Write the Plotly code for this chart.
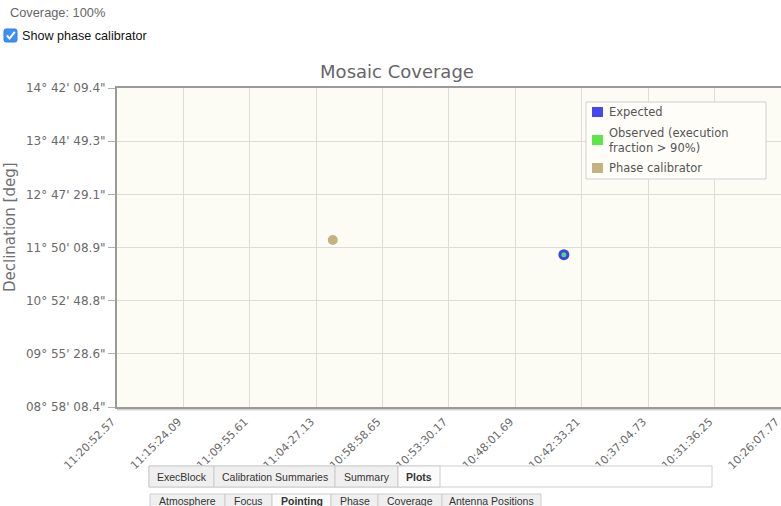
import re
import plotly.graph_objects as go

# ---------------------------------------------------------------- data
ra_tick_labels = ["11:20:52.57", "11:15:24.09", "11:09:55.61", "11:04:27.13",
                  "10:58:58.65", "10:53:30.17", "10:48:01.69", "10:42:33.21",
                  "10:37:04.73", "10:31:36.25", "10:26:07.77"]
dec_tick_labels = ['14° 42\' 09.4"', '13° 44\' 49.3"', '12° 47\' 29.1"',
                   '11° 50\' 08.9"', '10° 52\' 48.8"', '09° 55\' 28.6"',
                   '08° 58\' 08.4"']

# pointing centres (RA h:m:s, Dec d:m:s)
expected_ra = ["10:44:01.8"]
expected_dec = ["11:42:22.7"]
observed_ra = ["10:44:01.8"]
observed_dec = ["11:42:22.7"]
phasecal_ra = ["11:03:05.0"]
phasecal_dec = ["11:58:13.8"]

legend_names = ["Expected", "Observed (execution<br>fraction > 90%)", "Phase calibrator"]
legend_colors = ["#4646f5", "#5ce64a", "#c4b283"]

tabs_row1 = ["ExecBlock", "Calibration Summaries", "Summary", "Plots"]
tabs_row2 = ["Atmosphere", "Focus", "Pointing", "Phase", "Coverage", "Antenna Positions"]
selected_tabs = ["Plots", "Pointing"]


def sexa(s):
    parts = [float(p) for p in re.findall(r"[\d.]+", s)]
    return parts[0] + parts[1] / 60.0 + parts[2] / 3600.0


ra_tick_vals = [sexa(s) for s in ra_tick_labels]
dec_tick_vals = [sexa(s) for s in dec_tick_labels]

# ---------------------------------------------------------------- layout geometry (pixels)
W, H = 781, 506
L, T, R, B = 117, 88, 781, 407


def fx(x):
    return (x - L) / (R - L)


def fy(y):
    return (B - y) / (B - T)


GRAY_TXT = "#6a6a6a"
FONT = "DejaVu Sans"

fig = go.Figure()

fig.add_trace(go.Scatter(
    x=[sexa(v) for v in phasecal_ra], y=[sexa(v) for v in phasecal_dec],
    mode="markers", name="Phase calibrator", showlegend=False,
    marker=dict(color=legend_colors[2], size=10, line=dict(width=0)),
    hoverinfo="skip"))
fig.add_trace(go.Scatter(
    x=[sexa(v) for v in expected_ra], y=[sexa(v) for v in expected_dec],
    mode="markers", name="Expected", showlegend=False,
    marker=dict(color="#3d45e0", size=11, line=dict(width=0)),
    hoverinfo="skip"))
fig.add_trace(go.Scatter(
    x=[sexa(v) for v in observed_ra], y=[sexa(v) for v in observed_dec],
    mode="markers", name="Observed", showlegend=False,
    marker=dict(color="#4fd88a", size=5, line=dict(width=0)),
    hoverinfo="skip"))

shapes = []
annotations = []

# drop shadow under the plot frame
shapes.append(dict(type="line", xref="paper", yref="paper",
                   x0=fx(L), x1=1, y0=fy(B + 2.5), y1=fy(B + 2.5),
                   line=dict(color="#d2d2d2", width=2), layer="below"))

# legend box
lx0, ly0, lx1, ly1 = 586, 102, 766, 179
shapes.append(dict(type="rect", xref="paper", yref="paper",
                   x0=fx(lx0), x1=fx(lx1), y0=fy(ly0), y1=fy(ly1),
                   fillcolor="#fefdf8", line=dict(color="#cfcfcf", width=1),
                   layer="above"))
legend_rows = [112, 140, 168]
for name, col, yc in zip(legend_names, legend_colors, legend_rows):
    shapes.append(dict(type="rect", xref="paper", yref="paper",
                       x0=fx(592), x1=fx(603), y0=fy(yc - 5), y1=fy(yc + 5),
                       fillcolor=col, line=dict(width=0), layer="above"))
    annotations.append(dict(xref="paper", yref="paper", x=fx(607), y=fy(yc),
                            xanchor="left", yanchor="middle", showarrow=False,
                            align="left", text=name,
                            font=dict(family=FONT, size=11.5, color="#555555")))

# y axis title
annotations.append(dict(xref="paper", yref="paper", x=fx(10), y=fy(227),
                        xanchor="center", yanchor="middle", showarrow=False,
                        textangle=-90, text="Declination [deg]",
                        font=dict(family=FONT, size=15, color="#707070")))

# header text and checkbox
annotations.append(dict(xref="paper", yref="paper", x=fx(8), y=fy(12),
                        xanchor="left", yanchor="middle", showarrow=False,
                        text="Coverage: 100%",
                        font=dict(family="Liberation Sans", size=12.8, color="#666666")))
annotations.append(dict(xref="paper", yref="paper", x=fx(20), y=fy(36),
                        xanchor="left", yanchor="middle", showarrow=False,
                        text="Show phase calibrator",
                        font=dict(family="Liberation Sans", size=12.6, color="#111111")))
shapes.append(dict(type="path", xref="paper", yref="paper",
                   path=("M {a},{b} L {c},{b} Q {d},{b} {d},{e} L {d},{f} Q {d},{g} {c},{g} "
                         "L {a},{g} Q {h},{g} {h},{f} L {h},{e} Q {h},{b} {a},{b} Z").format(
                       a=fx(6), c=fx(15), d=fx(17), h=fx(4),
                       b=fy(29), e=fy(31), f=fy(40), g=fy(42)),
                   fillcolor="#3b8ff5", line=dict(color="#2f7fe6", width=1), layer="above"))
shapes.append(dict(type="path", xref="paper", yref="paper",
                   path="M {},{} L {},{} L {},{}".format(fx(6.8), fy(35.5), fx(9.5), fy(38.5),
                                                          fx(14.8), fy(31.8)),
                   line=dict(color="white", width=2), layer="above"))

# tab strip
row1_edges = [149, 214, 335, 398, 440]
row2_edges = [150, 225, 272, 331, 378, 442, 541]
shapes.append(dict(type="rect", xref="paper", yref="paper",
                   x0=fx(149), x1=fx(712), y0=fy(466), y1=fy(487),
                   fillcolor="#ffffff", line=dict(color="#cfcfcf", width=1),
                   layer="above"))


def draw_tabs(labels, edges, y0, y1, ytext):
    for lab, a, b in zip(labels, edges[:-1], edges[1:]):
        sel = lab in selected_tabs
        shapes.append(dict(type="rect", xref="paper", yref="paper",
                           x0=fx(a), x1=fx(b), y0=fy(y0), y1=fy(y1),
                           fillcolor="#fbfbfb" if sel else "#efefef",
                           line=dict(color="#cccccc", width=1), layer="above"))
        annotations.append(dict(xref="paper", yref="paper", x=fx((a + b) / 2),
                                y=fy(ytext),
                                xanchor="center", yanchor="middle", showarrow=False,
                                text="<b>%s</b>" % lab if sel else lab,
                                font=dict(family="Liberation Sans", size=10.5, color="#333333")))


draw_tabs(tabs_row1, row1_edges, 466, 487, 476.5)
draw_tabs(tabs_row2, row2_edges, 494, 510, 500.5)

fig.update_layout(
    width=W, height=H,
    margin=dict(l=L, r=W - R, t=T, b=H - B, pad=0, autoexpand=False),
    paper_bgcolor="white", plot_bgcolor="#fdfcf4",
    showlegend=False,
    title=dict(text="Mosaic Coverage", xref="container", yref="container",
               x=397 / W, y=1 - 72 / H, xanchor="center", yanchor="middle",
               font=dict(family=FONT, size=18, color="#666666")),
    shapes=shapes, annotations=annotations,
)

# RA decreases to the right; nudge the far end so its tick label is kept
fig.update_xaxes(
    range=[ra_tick_vals[0], ra_tick_vals[-1] - 5e-5],
    tickmode="array", tickvals=ra_tick_vals, ticktext=ra_tick_labels,
    tickangle=-45, ticks="", ticklabelstandoff=2, ticklabelshift=5,
    ticklabeloverflow="allow", automargin=False,
    tickfont=dict(family=FONT, size=11, color=GRAY_TXT),
    showgrid=True, gridcolor="#dcdcdc", gridwidth=1, zeroline=False,
    showline=True, linecolor="#9a9a9a", linewidth=2, mirror=True,
)
fig.update_yaxes(
    range=[dec_tick_vals[-1], dec_tick_vals[0]],
    tickmode="array", tickvals=dec_tick_vals, ticktext=dec_tick_labels,
    ticks="outside", ticklen=7, tickcolor="#b0b0b0", tickwidth=1,
    automargin=False,
    tickfont=dict(family=FONT, size=12, color=GRAY_TXT),
    showgrid=True, gridcolor="#dcdcdc", gridwidth=1, zeroline=False,
    showline=True, linecolor="#9a9a9a", linewidth=2,
)

fig.write_html("out.html")
